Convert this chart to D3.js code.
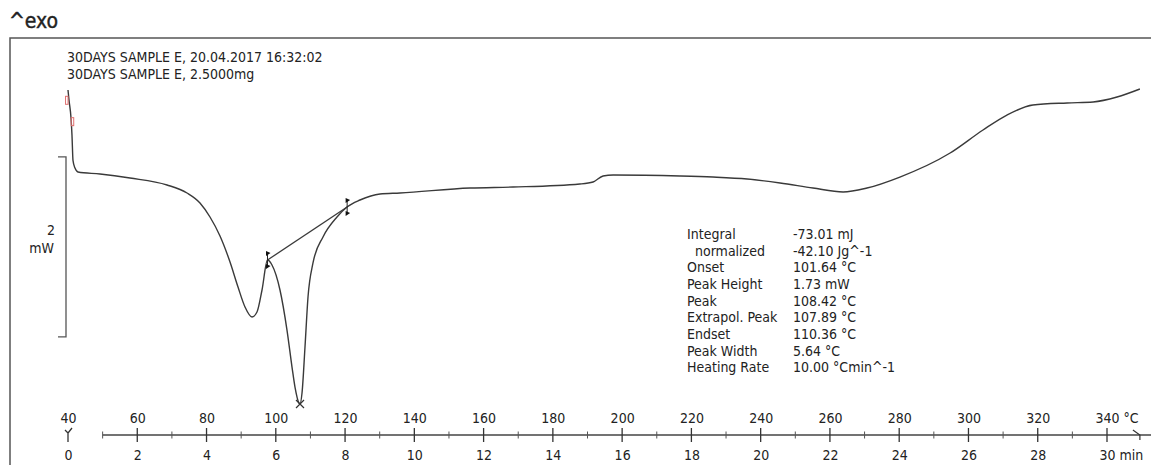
<!DOCTYPE html>
<html>
<head>
<meta charset="utf-8">
<script src="https://cdn.jsdelivr.net/npm/d3@7"></script>
<style>
  body { margin: 0; background: #fff; }
  text { font-family: "DejaVu Sans Condensed", "DejaVu Sans", sans-serif; fill: #222; }
</style>
</head>
<body>
<script>
// DSC curve, sample temperature (°C) vs heat flow (mW, arbitrary offset)
const tempC = [40.0, 40.29, 40.87, 41.15, 41.44, 42.02, 42.89, 49.24, 57.9, 68.59, 74.36, 78.11, 81.0,
  83.89, 86.78, 89.09, 91.11, 93.13, 94.57, 96.02, 97.6, 98.9, 101.21, 103.23, 104.68,
  105.54, 106.7, 106.99, 107.57, 108.43, 109.3, 110.74, 113.63, 117.67, 120.56, 124.31, 130.09, 135.86,
  156.1, 168.5, 187.8, 191.6, 194.5, 197.4, 216.7, 226.2, 236.1, 245.6, 255.1, 263.8, 270.7, 280.2,
  294.7, 304.2, 311.1, 318.6, 328.5, 336.0, 342.9, 349.5];
const heatFlow = [0.911, 0.8, 0.6, 0.41, 0.13, 0.044, 0, -0.022, -0.067, -0.144, -0.233, -0.344, -0.5,
  -0.711, -1.0, -1.278, -1.5, -1.611, -1.556, -1.311, -0.978, -1.033, -1.311, -1.756, -2.167,
  -2.389, -2.567, -2.578, -2.456, -1.944, -1.389, -1.011, -0.722, -0.5, -0.389, -0.311, -0.244, -0.233,
  -0.178, -0.167, -0.133, -0.111, -0.044, -0.033, -0.044, -0.056, -0.078, -0.122, -0.178, -0.222, -0.178, -0.056,
  0.211, 0.467, 0.633, 0.744, 0.767, 0.778, 0.833, 0.922];

const tempTicks = [40, 60, 80, 100, 120, 140, 160, 180, 200, 220, 240, 260, 280, 300, 320, 340];
const timeTicks = [0, 2, 4, 6, 8, 10, 12, 14, 16, 18, 20, 22, 24, 26, 28, 30];
const minorTicks = [1, 3, 5, 7, 9, 11, 13, 15, 17, 19, 21, 23, 25, 27, 29];

const headerLines = ["30DAYS SAMPLE E, 20.04.2017 16:32:02", "30DAYS SAMPLE E, 2.5000mg"];
const infoLabels = ["Integral", "  normalized", "Onset", "Peak Height", "Peak", "Extrapol. Peak", "Endset", "Peak Width", "Heating Rate"];
const infoValues = ["-73.01 mJ", "-42.10 Jg^-1", "101.64 °C", "1.73 mW", "108.42 °C", "107.89 °C", "110.36 °C", "5.64 °C", "10.00 °Cmin^-1"];

const baselineLimits = [97.6, 120.6];   // integration limits, °C
const redMarks = [40.3, 40.93];         // °C
const scaleBar = [0.167, -1.833];       // 2 mW

const W = 1151, H = 465;
const svg = d3.select("body").append("svg").attr("width", W).attr("height", H);

const x = d3.scaleLinear().domain([40, 340]).range([68, 1107]);
const t = d3.scaleLinear().domain([0, 30]).range([68, 1107]);
const y = d3.scaleLinear().domain([0, 1]).range([172, 82]);
const axisY = 435;

const interp = T => {
  const i = d3.bisectRight(tempC, T) - 1;
  const f = (T - tempC[i]) / (tempC[i + 1] - tempC[i]);
  return heatFlow[i] + f * (heatFlow[i + 1] - heatFlow[i]);
};

// frame + ^exo
svg.append("text").attr("x", 9).attr("y", 28).attr("font-size", 21).attr("stroke", "#222").attr("stroke-width", 0.4).text("^exo");
svg.append("path").attr("d", `M10,${H}V38H${W}`).attr("fill", "none").attr("stroke", "#555").attr("stroke-width", 1.5);

svg.append("g").selectAll("text").data(headerLines).enter().append("text")
  .attr("x", 67).attr("y", (d, i) => 62 + i * 16.5).attr("font-size", 14).text(d => d);

// scale bar
const sb = svg.append("g").attr("fill", "none").attr("stroke", "#555").attr("stroke-width", 1.3);
sb.append("path").attr("d", `M58,${y(scaleBar[0])}H66V${y(scaleBar[1])}H58`);
svg.append("text").attr("x", 55).attr("y", 235).attr("text-anchor", "end").attr("font-size", 14).text("2");
svg.append("text").attr("x", 54).attr("y", 253).attr("text-anchor", "end").attr("font-size", 14).text("mW");

// curve
const line = d3.line().x((d, i) => x(tempC[i])).y(d => y(d)).curve(d3.curveMonotoneX);
svg.append("path").attr("d", line(heatFlow)).attr("fill", "none").attr("stroke", "#3a3a3a").attr("stroke-width", 1.4);

// red marks near start
svg.append("g").selectAll("rect").data(redMarks).enter().append("rect")
  .attr("x", (d, i) => x(d) - (i === 0 ? 3.5 : 0)).attr("y", d => y(interp(d)) - 4)
  .attr("width", 2.5).attr("height", 8).attr("fill", "none").attr("stroke", "#e07070").attr("stroke-width", 1);

// integration baseline with limit markers
const bl = baselineLimits.map(T => [x(T), y(interp(T))]);
svg.append("line").attr("x1", bl[0][0]).attr("y1", bl[0][1]).attr("x2", bl[1][0]).attr("y2", bl[1][1])
  .attr("stroke", "#3a3a3a").attr("stroke-width", 1.3);
bl.forEach(p => {
  const g = svg.append("g").attr("transform", `translate(${p[0]},${p[1]})`);
  g.append("line").attr("y1", -7).attr("y2", 7).attr("stroke", "#222").attr("stroke-width", 1);
  g.append("path").attr("d", "M-1.5,-9L3,-7L-1.5,-4Z").attr("fill", "#111");
  g.append("path").attr("d", "M-1.5,4L3,6L-1.5,9Z").attr("fill", "#111");
});

// peak cross at curve minimum
const iMin = d3.minIndex(heatFlow);
svg.append("path")
  .attr("transform", `translate(${x(tempC[iMin])},${y(heatFlow[iMin])})`)
  .attr("d", "M-4,-4L4,4M-4,4L4,-4").attr("stroke", "#333").attr("stroke-width", 1.2);

// result table
const info = svg.append("g");
info.selectAll("text.lab").data(infoLabels).enter().append("text").attr("class", "lab")
  .attr("x", 687).attr("y", (d, i) => 239 + i * 16.65).attr("font-size", 14)
  .style("white-space", "pre").text(d => d);
info.selectAll("text.val").data(infoValues).enter().append("text").attr("class", "val")
  .attr("x", 793).attr("y", (d, i) => 239 + i * 16.65).attr("font-size", 14).text(d => d);

// axis
const ax = svg.append("g");
ax.append("line").attr("x1", t(1)).attr("x2", W).attr("y1", axisY).attr("y2", axisY)
  .attr("stroke", "#444").attr("stroke-width", 1.3);
ax.selectAll("line.maj").data(timeTicks.slice(1)).enter().append("line").attr("class", "maj")
  .attr("x1", d => t(d)).attr("x2", d => t(d)).attr("y1", axisY - 7).attr("y2", axisY + 7)
  .attr("stroke", "#333").attr("stroke-width", 1.3);
ax.selectAll("line.min").data(minorTicks).enter().append("line").attr("class", "min")
  .attr("x1", d => t(d)).attr("x2", d => t(d)).attr("y1", axisY - 3.5).attr("y2", axisY + 3.5)
  .attr("stroke", "#555").attr("stroke-width", 1);

// start / end markers
const x0 = x(tempC[0]), x1 = x(tempC[tempC.length - 1]);
ax.append("path").attr("d", `M${x0},${axisY + 7}V${axisY - 2}L${x0 + 4},${axisY - 7}M${x0},${axisY - 2}L${x0 - 3},${axisY - 5}`)
  .attr("fill", "none").attr("stroke", "#333").attr("stroke-width", 1.3);
ax.append("path").attr("d", `M${x1 - 7},${axisY - 5}L${x1},${axisY}V${axisY + 5}`)
  .attr("fill", "none").attr("stroke", "#333").attr("stroke-width", 1.2);

const topAxis = svg.append("g").attr("transform", `translate(0,${axisY})`)
  .call(d3.axisTop(x).tickValues(tempTicks).tickSize(0).tickPadding(12));
const botAxis = svg.append("g").attr("transform", `translate(0,${axisY})`)
  .call(d3.axisBottom(t).tickValues(timeTicks).tickSize(0).tickPadding(15));
[[topAxis, " °C"], [botAxis, " min"]].forEach(([g, unit]) => {
  g.select(".domain").remove();
  g.selectAll("text").attr("font-size", 14).attr("fill", "#222");
  const last = g.selectAll(".tick text").filter((d, i, n) => i === n.length - 1);
  const w = last.node().getComputedTextLength();
  last.attr("text-anchor", "start").attr("x", -w / 2).append("tspan").text(unit);
});
svg.selectAll("g[font-family]").attr("font-family", null);
</script>
</body>
</html>
